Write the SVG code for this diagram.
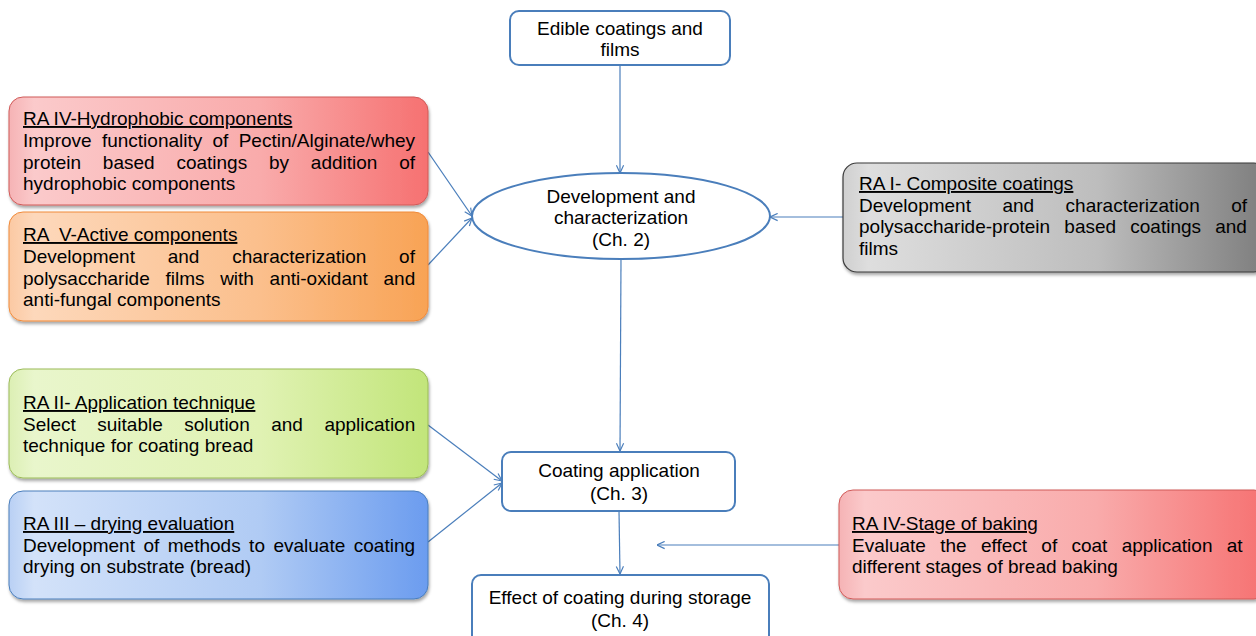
<svg xmlns="http://www.w3.org/2000/svg" width="1256" height="636" viewBox="0 0 1256 636">
<style>
text{font-family:"Liberation Sans",Arial,sans-serif;font-size:19px;fill:#000}
.c{text-anchor:middle}
.t{text-decoration:underline;white-space:pre}
.blue{fill:#fff;stroke:#4a7ebb;stroke-width:2}
.conn line{stroke:#4a7ebb;stroke-width:1.2;fill:none;marker-end:url(#ah)}
</style>
<defs>
<marker id="ah" viewBox="0 0 10 10" refX="9.5" refY="5" markerWidth="9" markerHeight="9" markerUnits="userSpaceOnUse" orient="auto">
<path d="M1,1 L9.5,5 L1,9" fill="none" stroke="#4a7ebb" stroke-width="1.3"/>
</marker>
<filter id="sh" x="-5%" y="-10%" width="112%" height="125%">
<feDropShadow dx="1" dy="2.5" stdDeviation="1.5" flood-color="#000" flood-opacity="0.35"/>
</filter>
<linearGradient id="gRed" x1="0" y1="0" x2="1" y2="0">
<stop offset="0" stop-color="#f5b3b5"/>
<stop offset="0.06" stop-color="#fbcacb"/>
<stop offset="0.6" stop-color="#f9abab"/>
<stop offset="1" stop-color="#f67171"/>
</linearGradient>
<linearGradient id="gOr" x1="0" y1="0" x2="1" y2="0">
<stop offset="0" stop-color="#fbc9a3"/>
<stop offset="0.06" stop-color="#fdd8bb"/>
<stop offset="0.6" stop-color="#fbbf8c"/>
<stop offset="1" stop-color="#f8a355"/>
</linearGradient>
<linearGradient id="gGr" x1="0" y1="0" x2="1" y2="0">
<stop offset="0" stop-color="#dcefb4"/>
<stop offset="0.06" stop-color="#e9f6cc"/>
<stop offset="0.6" stop-color="#e0f2b3"/>
<stop offset="1" stop-color="#c2e57a"/>
</linearGradient>
<linearGradient id="gBl" x1="0" y1="0" x2="1" y2="0">
<stop offset="0" stop-color="#b9d0f4"/>
<stop offset="0.06" stop-color="#d3e2f9"/>
<stop offset="0.6" stop-color="#b0cbf4"/>
<stop offset="1" stop-color="#6b9cef"/>
</linearGradient>
<linearGradient id="gGy" x1="0" y1="0" x2="1" y2="0">
<stop offset="0" stop-color="#cfcfcf"/>
<stop offset="0.06" stop-color="#dedede"/>
<stop offset="0.6" stop-color="#bdbdbd"/>
<stop offset="1" stop-color="#7d7d7d"/>
</linearGradient>
</defs>

<rect width="1256" height="636" fill="#fff"/>

<g class="conn" id="connectors">
<line x1="620" y1="65" x2="620" y2="173"/>
<line x1="428" y1="152" x2="472" y2="216"/>
<line x1="428" y1="265" x2="472" y2="218"/>
<line x1="843" y1="217" x2="770" y2="217"/>
<line x1="621" y1="259" x2="620" y2="451"/>
<line x1="428" y1="425" x2="502" y2="481"/>
<line x1="428" y1="542" x2="502" y2="483"/>
<line x1="619" y1="511" x2="620" y2="574"/>
<line x1="840" y1="545" x2="657" y2="545"/>
</g>

<g id="edible">
<rect class="blue" x="510" y="11" width="220" height="54" rx="9"/>
<text class="c" x="620" y="35">Edible coatings and</text>
<text class="c" x="620" y="56">films</text>
</g>

<g id="development">
<ellipse class="blue" cx="621" cy="216" rx="149" ry="43"/>
<text class="c" x="621" y="203">Development and</text>
<text class="c" x="621" y="224">characterization</text>
<text class="c" x="621" y="246">(Ch. 2)</text>
</g>

<g id="coating-app">
<rect class="blue" x="502" y="452" width="233" height="59" rx="9"/>
<text class="c" x="619" y="477">Coating application</text>
<text class="c" x="619" y="500">(Ch. 3)</text>
</g>

<g id="effect">
<rect class="blue" x="472" y="575" width="297" height="80" rx="9"/>
<text class="c" x="620" y="604">Effect of coating during storage</text>
<text class="c" x="620" y="627">(Ch. 4)</text>
</g>

<g id="ra4-hydro">
<rect x="9" y="97" width="419" height="108" rx="14" fill="url(#gRed)" stroke="#d05a58" stroke-width="1" filter="url(#sh)"/>
<text class="t" x="23" y="125">RA IV-Hydrophobic components</text>
<text x="23" y="147" word-spacing="5">Improve functionality of Pectin/Alginate/whey</text>
<text x="23" y="168.5" word-spacing="16.5">protein based coatings by addition of</text>
<text x="23" y="190">hydrophobic components</text>
</g>

<g id="ra5-active">
<rect x="9" y="212" width="419" height="109" rx="14" fill="url(#gOr)" stroke="#f08a3a" stroke-width="1" filter="url(#sh)"/>
<text class="t" x="23" y="241">RA  V-Active components</text>
<text x="23" y="263" word-spacing="27.5">Development and characterization of</text>
<text x="23" y="284.5" word-spacing="10.4">polysaccharide films with anti-oxidant and</text>
<text x="23" y="306">anti-fungal components</text>
</g>

<g id="ra1-composite">
<rect x="843" y="163" width="425" height="109" rx="14" fill="url(#gGy)" stroke="#3a3a3a" stroke-width="1.2" filter="url(#sh)"/>
<text class="t" x="859" y="190">RA I- Composite coatings</text>
<text x="859" y="211.5" word-spacing="26.2">Development and characterization of</text>
<text x="859" y="233" word-spacing="8.9">polysaccharide-protein based coatings and</text>
<text x="859" y="254.5">films</text>
</g>

<g id="ra2-application">
<rect x="9" y="369" width="419" height="109" rx="14" fill="url(#gGr)" stroke="#9bbb59" stroke-width="1" filter="url(#sh)"/>
<text class="t" x="23" y="409">RA II- Application technique</text>
<text x="23" y="430.5" word-spacing="16.2">Select suitable solution and application</text>
<text x="23" y="452">technique for coating bread</text>
</g>

<g id="ra3-drying">
<rect x="9" y="491" width="419" height="108" rx="14" fill="url(#gBl)" stroke="#4a7ebb" stroke-width="1" filter="url(#sh)"/>
<text class="t" x="23" y="530">RA III – drying evaluation</text>
<text x="23" y="551.5" word-spacing="3.2">Development of methods to evaluate coating</text>
<text x="23" y="573">drying on substrate (bread)</text>
</g>

<g id="ra4-baking">
<rect x="839" y="490" width="429" height="109" rx="14" fill="url(#gRed)" stroke="#d05a58" stroke-width="1" filter="url(#sh)"/>
<text class="t" x="852" y="530">RA IV-Stage of baking</text>
<text x="852" y="551.5" word-spacing="9">Evaluate the effect of coat application at</text>
<text x="852" y="573">different stages of bread baking</text>
</g>
</svg>
